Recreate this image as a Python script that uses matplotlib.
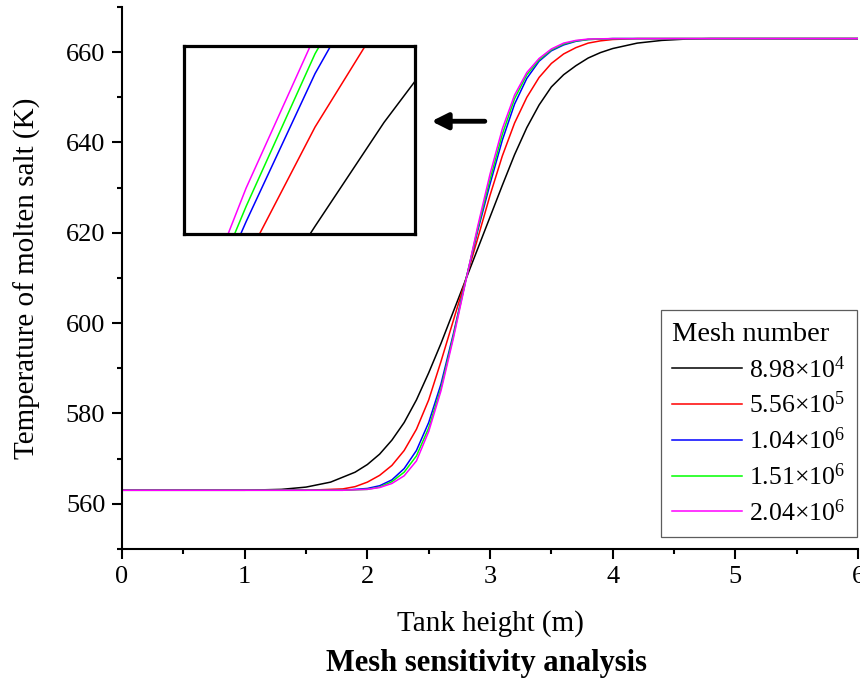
import numpy as np
import matplotlib
matplotlib.use('Agg')
import matplotlib.pyplot as plt

plt.rcParams['font.family'] = ['Liberation Serif', 'DejaVu Serif']
plt.rcParams['mathtext.fontset'] = 'custom'
plt.rcParams['mathtext.rm'] = 'Liberation Serif'
plt.rcParams['mathtext.it'] = 'Liberation Serif:italic'

# Tank height (m) and molten salt temperature (K)
x_black = [0, 1.0, 1.3, 1.5, 1.7, 1.9, 2.0, 2.1, 2.2, 2.3, 2.4, 2.5, 2.6, 2.7, 2.8, 2.9,
           3.0, 3.1, 3.2, 3.3, 3.4, 3.5, 3.6, 3.7, 3.8, 3.9, 4.0, 4.2, 4.4, 4.6, 4.8, 6.0]
t_black = [563, 563, 563.2, 563.7, 564.8, 567, 568.7, 571, 574.1, 578, 583, 589, 595.5,
           602.5, 609.5, 616.5, 623.5, 630.5, 637.3, 643.3, 648.3, 652.3, 655, 657, 658.7,
           659.9, 660.8, 662, 662.6, 662.9, 663, 663]

x_red = [0, 1.5, 1.8, 1.9, 2.0, 2.1, 2.2, 2.3, 2.4, 2.5, 2.6, 2.7, 2.8, 2.9, 3.0, 3.1,
         3.2, 3.3, 3.4, 3.5, 3.6, 3.7, 3.8, 3.9, 4.0, 4.2, 6.0]
t_red = [563, 563, 563.3, 563.8, 564.8, 566.3, 568.5, 571.8, 576.5, 583, 591.5, 600.5,
         609.5, 618.8, 628.3, 637, 644.3, 650, 654.4, 657.5, 659.6, 661, 662, 662.5,
         662.8, 663, 663]

x_blue = [0, 1.8, 2.0, 2.1, 2.2, 2.3, 2.4, 2.5, 2.6, 2.7, 2.8, 2.9, 3.0, 3.1, 3.2, 3.3,
          3.4, 3.5, 3.6, 3.7, 3.8, 4.0, 6.0]
t_blue = [563, 563, 563.4, 564, 565.3, 567.8, 571.8, 578, 586.5, 597.5, 609.3, 620.5,
          630.8, 640.5, 648.5, 654.2, 658, 660.3, 661.6, 662.4, 662.8, 663, 663]

x_green = [0, 1.8, 2.0, 2.1, 2.2, 2.3, 2.4, 2.5, 2.6, 2.7, 2.8, 2.9, 3.0, 3.1, 3.2, 3.3,
           3.4, 3.5, 3.6, 3.7, 3.8, 4.0, 6.0]
t_green = [563, 563, 563.2, 563.7, 564.9, 567, 570.6, 576.8, 585.6, 597, 609.2, 621,
           631.8, 641.8, 649.7, 655, 658.3, 660.5, 661.8, 662.5, 662.8, 663, 663]

x_magenta = [0, 1.8, 2.0, 2.1, 2.2, 2.3, 2.4, 2.5, 2.6, 2.7, 2.8, 2.9, 3.0, 3.1, 3.2,
             3.3, 3.4, 3.5, 3.6, 3.7, 3.8, 4.0, 6.0]
t_magenta = [563, 563, 563.2, 563.6, 564.5, 566.2, 569.5, 576, 585, 596.5, 609, 621.5,
             633, 643, 650.5, 655.5, 658.6, 660.7, 662, 662.6, 662.9, 663, 663]

series = [
    (x_black, t_black, 'black', r'8.98×10$^{4}$'),
    (x_red, t_red, '#ff0000', r'5.56×10$^{5}$'),
    (x_blue, t_blue, '#0000ff', r'1.04×10$^{6}$'),
    (x_green, t_green, '#00ff00', r'1.51×10$^{6}$'),
    (x_magenta, t_magenta, '#ff00ff', r'2.04×10$^{6}$'),
]

fig = plt.figure(figsize=(8.6, 6.78), dpi=100)
ax = fig.add_axes([0.1419, 0.1903, 0.8558, 0.7994])

for xs, ts, c, lab in series:
    ax.plot(xs, ts, color=c, lw=1.1, label=lab)

ax.set_xlim(0, 6)
ax.set_ylim(550, 670)
ax.set_xticks(np.arange(0, 7, 1))
ax.set_xticks(np.arange(0.5, 6, 1), minor=True)
ax.set_yticks(np.arange(560, 661, 20))
ax.set_yticks(np.arange(550, 671, 20), minor=True)
ax.spines['top'].set_visible(False)
ax.spines['right'].set_visible(False)
for s in ['left', 'bottom']:
    ax.spines[s].set_linewidth(1.5)
ax.tick_params(which='major', direction='out', length=7, width=1.5, labelsize=19, pad=5)
ax.tick_params(which='minor', direction='out', length=3.5, width=1.5)

ax.set_xlabel('Tank height (m)', fontsize=21, labelpad=16)
ax.set_ylabel('Temperature of molten salt (K)', fontsize=21, labelpad=18)

leg = ax.legend(title='Mesh number', loc='lower right', bbox_to_anchor=(0.999, 0.022),
                borderaxespad=0, fontsize=18.5, title_fontsize=20.5, frameon=True,
                fancybox=False, edgecolor='#333333', handlelength=2.7, handletextpad=0.3,
                labelspacing=0.36, borderpad=0.45, alignment='left')
leg.get_frame().set_linewidth(0.9)

# arrow pointing at the zoomed inset
ax.annotate('', xy=(2.5, 644.7), xytext=(2.98, 644.7),
            arrowprops=dict(arrowstyle='-|>', lw=3.5, color='black', mutation_scale=24))

# inset magnification
axin = fig.add_axes([0.214, 0.655, 0.2686, 0.277])
for xs, ts, c, lab in series:
    axin.plot(xs, ts, color=c, lw=1.1)
axin.set_xlim(2.91, 3.245)
axin.set_ylim(630, 642.3)
axin.set_xticks([])
axin.set_yticks([])
for s in axin.spines.values():
    s.set_linewidth(2.3)

fig.text(0.566, 0.021, 'Mesh sensitivity analysis', fontsize=22, fontweight='bold',
         ha='center', va='center')

fig.savefig('out.png', dpi=100)
